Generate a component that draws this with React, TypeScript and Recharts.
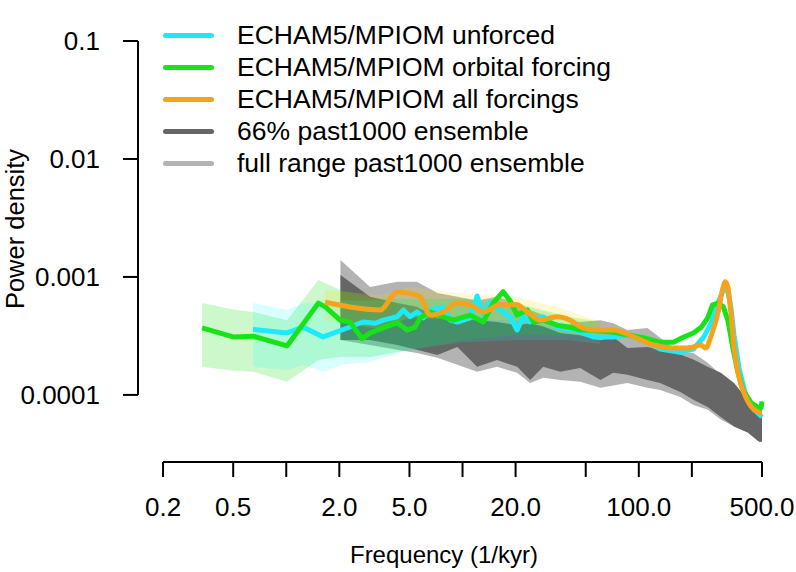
import { ComposedChart, Line, Area, XAxis, YAxis, ReferenceLine, Legend } from 'recharts';

const FONT = '"Liberation Sans", Arial, Helvetica, sans-serif';

// axis ticks
const freqTicks = [0.2, 0.5, 1, 2, 5, 10, 20, 50, 100, 200, 500];
const freqTickLabels = ['0.2', '0.5', '', '2.0', '5.0', '', '20.0', '', '100.0', '', '500.0'];
const powerTicks = [0.0001, 0.001, 0.01, 0.1];
const powerTickLabels = ['0.0001', '0.001', '0.01', '0.1'];

// ECHAM5/MPIOM unforced
const unforcedFreq = [0.648, 1.01, 1.25, 1.62, 2.07, 2.72, 3.2, 3.55, 4.26, 4.62, 5.04, 5.53, 6.0, 6.55, 7.77, 8.5, 9.35, 11.05, 12.1, 13.1, 14.3, 16.3, 18.6, 20.4, 22.1, 24.2, 28.7, 34.4, 42.5, 55.3, 71.6, 86.2, 106, 132, 172, 204, 234, 256, 281, 304, 320, 333, 347, 370, 404, 451, 500];
const unforcedPower = [3.6e-4, 3.35e-4, 3.75e-4, 3.1e-4, 3.55e-4, 4.15e-4, 4.05e-4, 4.3e-4, 4.6e-4, 5.25e-4, 4.6e-4, 5.05e-4, 4.5e-4, 5.25e-4, 5.55e-4, 4.3e-4, 4.15e-4, 4.5e-4, 6.9e-4, 4.75e-4, 6.1e-4, 5.25e-4, 4.6e-4, 3.55e-4, 4.6e-4, 4.15e-4, 4.6e-4, 3.75e-4, 3.6e-4, 3.1e-4, 3.1e-4, 3.2e-4, 2.9e-4, 2.45e-4, 2.3e-4, 2.45e-4, 3.1e-4, 4.0e-4, 6.0e-4, 8.0e-4, 7.5e-4, 5.5e-4, 3.2e-4, 1.7e-4, 1.0e-4, 7.5e-5, 6.5e-5];
const unforcedBandFreq = [0.648, 1.01, 1.25, 1.62, 2.07, 3.0, 5.0, 10, 20, 40, 60];
const unforcedBandLow = [1.73e-4, 1.63e-4, 1.8e-4, 1.57e-4, 1.8e-4, 1.9e-4, 2.4e-4, 2.8e-4, 2.9e-4, 2.9e-4, 2.7e-4];
const unforcedBandHigh = [6.0e-4, 5.25e-4, 6.0e-4, 5.8e-4, 6.3e-4, 6.3e-4, 6.5e-4, 6.3e-4, 5.8e-4, 4.5e-4, 3.8e-4];

// ECHAM5/MPIOM orbital forcing
const orbitalFreq = [0.333, 0.5, 0.65, 1.01, 1.52, 1.66, 2.02, 2.3, 2.69, 2.99, 3.55, 4.26, 4.85, 5.39, 5.75, 6.55, 7.77, 8.85, 11.05, 13.1, 14.9, 17.0, 18.6, 20.4, 23.3, 25.2, 28.7, 34.4, 40.8, 46.5, 51, 71.6, 106, 132, 157, 180, 204, 227, 246, 262, 281, 301, 320, 341, 362, 390, 433, 475, 494, 500];
const orbitalPower = [3.7e-4, 3.1e-4, 3.15e-4, 2.6e-4, 6.0e-4, 5.6e-4, 4.3e-4, 4.15e-4, 3.0e-4, 3.35e-4, 3.7e-4, 4.1e-4, 3.55e-4, 3.75e-4, 4.5e-4, 5.05e-4, 4.6e-4, 4.3e-4, 4.75e-4, 4.15e-4, 6.0e-4, 7.5e-4, 6.3e-4, 4.75e-4, 5.25e-4, 4.15e-4, 4.3e-4, 3.9e-4, 3.75e-4, 3.55e-4, 3.55e-4, 3.4e-4, 3.05e-4, 2.8e-4, 2.8e-4, 3.1e-4, 3.35e-4, 3.77e-4, 4.5e-4, 5.8e-4, 6.0e-4, 5.6e-4, 4.3e-4, 2.55e-4, 1.63e-4, 1.1e-4, 8.6e-5, 7.8e-5, 7.8e-5, 8.8e-5];
const orbitalBandFreq = [0.333, 0.5, 0.65, 1.01, 1.52, 2.02, 3.0, 5.0, 10, 20, 40, 60];
const orbitalBandLow = [1.73e-4, 1.6e-4, 1.57e-4, 1.29e-4, 1.98e-4, 2.1e-4, 2.1e-4, 2.4e-4, 2.9e-4, 3.2e-4, 3.2e-4, 3.1e-4];
const orbitalBandHigh = [6.0e-4, 5.3e-4, 5.05e-4, 4.3e-4, 9.4e-4, 7.8e-4, 6.6e-4, 6.5e-4, 6.5e-4, 6.0e-4, 4.6e-4, 4.2e-4];

// ECHAM5/MPIOM all forcings
const allFreq = [1.66, 3.41, 4.26, 5.75, 6.55, 7.77, 9.35, 11.05, 13.1, 16.3, 20.4, 23.3, 27.6, 34.4, 40.8, 46.5, 55.3, 71.6, 93.3, 121, 157, 188, 204, 224, 240, 256, 281, 301, 309, 320, 333, 347, 370, 404, 451, 500];
const allPower = [6.1e-4, 5.25e-4, 7.45e-4, 6.8e-4, 4.75e-4, 5.05e-4, 6.0e-4, 5.8e-4, 5.05e-4, 5.8e-4, 5.8e-4, 5.05e-4, 4.3e-4, 4.6e-4, 4.3e-4, 3.8e-4, 3.55e-4, 3.55e-4, 3.1e-4, 2.65e-4, 2.5e-4, 2.5e-4, 2.55e-4, 2.65e-4, 2.5e-4, 3.1e-4, 4.95e-4, 8.2e-4, 9.1e-4, 8.2e-4, 4.95e-4, 2.55e-4, 1.42e-4, 9.6e-5, 7.5e-5, 7.0e-5];
const allBandFreq = [1.66, 3.41, 5, 10, 20, 40, 60];
const allBandLow = [4.3e-4, 3.6e-4, 4.5e-4, 4.3e-4, 4.3e-4, 3.5e-4, 3.0e-4];
const allBandHigh = [7.8e-4, 7.0e-4, 8.2e-4, 7.2e-4, 6.8e-4, 5.2e-4, 4.2e-4];

// past1000 ensemble
const ensFreq = [2.03, 2.99, 4.26, 5.5, 7.2, 9.35, 12.1, 15.7, 20.4, 24.2, 28.7, 35.8, 46.5, 60.6, 71.6, 86.2, 112, 132, 172, 204, 246, 292, 347, 415, 481, 500];
const ens66Low = [2.92e-4, 2.92e-4, 2.65e-4, 2.41e-4, 2.18e-4, 2.55e-4, 1.73e-4, 1.98e-4, 1.73e-4, 1.34e-4, 1.73e-4, 1.57e-4, 1.69e-4, 1.34e-4, 1.54e-4, 1.48e-4, 1.34e-4, 1.26e-4, 1.06e-4, 9.1e-5, 7.9e-5, 6.5e-5, 5.4e-5, 4.8e-5, 4.0e-5, 4.0e-5];
const ens66High = [1.04e-3, 6.8e-4, 6.0e-4, 5.6e-4, 4.5e-4, 4.5e-4, 4.3e-4, 4.15e-4, 3.9e-4, 4.05e-4, 3.8e-4, 3.35e-4, 3.2e-4, 2.9e-4, 3.1e-4, 2.5e-4, 2.55e-4, 2.4e-4, 2.2e-4, 2.0e-4, 1.73e-4, 1.54e-4, 1.26e-4, 9.1e-5, 7.9e-5, 7.8e-5];
const ensFullLow = [2.92e-4, 2.65e-4, 2.41e-4, 2.27e-4, 2.07e-4, 1.8e-4, 1.57e-4, 1.73e-4, 1.54e-4, 1.26e-4, 1.4e-4, 1.34e-4, 1.29e-4, 1.15e-4, 1.2e-4, 1.26e-4, 1.15e-4, 1.1e-4, 9.6e-5, 8.2e-5, 7.5e-5, 6.2e-5, 5.4e-5, 4.8e-5, 4.0e-5, 4.0e-5];
const ensFullHigh = [1.39e-3, 8.2e-4, 9.1e-4, 9.1e-4, 7.3e-4, 6.8e-4, 6.3e-4, 6.8e-4, 6.0e-4, 5.25e-4, 4.75e-4, 3.8e-4, 4.15e-4, 4.3e-4, 4.05e-4, 3.55e-4, 3.7e-4, 3.05e-4, 2.3e-4, 2.27e-4, 1.87e-4, 1.48e-4, 1.1e-4, 9.1e-5, 7.9e-5, 7.8e-5];

const legendItems = [
    { name: 'ECHAM5/MPIOM unforced', color: '#1de9fb' },
    { name: 'ECHAM5/MPIOM orbital forcing', color: '#18e218' },
    { name: 'ECHAM5/MPIOM all forcings', color: '#f5a31d' },
    { name: '66% past1000 ensemble', color: '#666666' },
    { name: 'full range past1000 ensemble', color: '#b3b3b3' },
];

const X_DOMAIN = [0.1442, 693];
const Y_DOMAIN = [2.7e-5, 0.1];

const toLine = (freq: number[], power: number[]) => freq.map((f, i) => ({ f, p: power[i] }));
const toBand = (freq: number[], low: number[], high: number[]) =>
    freq.map((f, i) => ({ f, range: [low[i], high[i]] }));

const unforcedData = toLine(unforcedFreq, unforcedPower);
const orbitalData = toLine(orbitalFreq, orbitalPower);
const allData = toLine(allFreq, allPower);
const unforcedBand = toBand(unforcedBandFreq, unforcedBandLow, unforcedBandHigh);
const orbitalBand = toBand(orbitalBandFreq, orbitalBandLow, orbitalBandHigh);
const allBand = toBand(allBandFreq, allBandLow, allBandHigh);
const ens66Band = toBand(ensFreq, ens66Low, ens66High);
const ensFullBand = toBand(ensFreq, ensFullLow, ensFullHigh);

const FreqTick = ({ x, y, payload }: any) => (
    <text x={x} y={y} dy="0.71em" textAnchor="middle" fontSize={26} fontFamily={FONT} fill="#000">
        {freqTickLabels[freqTicks.indexOf(payload.value)]}
    </text>
);

const PowerTick = ({ x, y, payload }: any) => (
    <text x={x} y={y} dy="0.355em" textAnchor="end" fontSize={26} fontFamily={FONT} fill="#000">
        {powerTickLabels[powerTicks.indexOf(payload.value)]}
    </text>
);

const renderLegend = () => (
    <div style={{ fontFamily: FONT, fontSize: 26.5, color: '#000' }}>
        {legendItems.map((item) => (
            <div key={item.name} style={{ display: 'flex', alignItems: 'center', height: 32 }}>
                <div style={{ width: 51, height: 5, borderRadius: 3, backgroundColor: item.color, marginRight: 23 }} />
                <span style={{ whiteSpace: 'nowrap', lineHeight: '32px' }}>{item.name}</span>
            </div>
        ))}
    </div>
);

export default function App() {
    return (
        <div style={{ position: 'absolute', left: 0, top: 0, width: 796, height: 572, background: '#fff' }}>
            <ComposedChart width={796} height={572} margin={{ top: 41, right: 9, bottom: 0, left: 0 }}>
                <XAxis
                    dataKey="f"
                    type="number"
                    scale="log"
                    domain={X_DOMAIN}
                    allowDataOverflow
                    ticks={freqTicks}
                    interval={0}
                    height={110}
                    tickSize={15}
                    tickMargin={21}
                    axisLine={false}
                    tickLine={{ stroke: '#000', strokeWidth: 2 }}
                    tick={<FreqTick />}
                    label={{
                        content: () => (
                            <text x={444} y={563} textAnchor="middle" fontSize={24} fontFamily={FONT} fill="#000">
                                Frequency (1/kyr)
                            </text>
                        ),
                    }}
                />
                <YAxis
                    type="number"
                    scale="log"
                    domain={Y_DOMAIN}
                    allowDataOverflow
                    ticks={powerTicks}
                    interval={0}
                    width={138}
                    tickSize={15}
                    tickMargin={23}
                    axisLine={false}
                    tickLine={{ stroke: '#000', strokeWidth: 2 }}
                    tick={<PowerTick />}
                    label={{
                        content: () => (
                            <text transform="translate(24,229) rotate(-90)" textAnchor="middle" fontSize={25.5} fontFamily={FONT} fill="#000">
                                Power density
                            </text>
                        ),
                    }}
                />
                <ReferenceLine segment={[{ x: 0.2, y: Y_DOMAIN[0] }, { x: 500, y: Y_DOMAIN[0] }]} stroke="#000" strokeWidth={2} ifOverflow="visible" />
                <ReferenceLine segment={[{ x: X_DOMAIN[0], y: 0.0001 }, { x: X_DOMAIN[0], y: 0.1 }]} stroke="#000" strokeWidth={2} ifOverflow="visible" />

                <Area data={ensFullBand} dataKey="range" type="linear" stroke="none" fill="#b3b3b3" fillOpacity={1} isAnimationActive={false} />
                <Area data={ens66Band} dataKey="range" type="linear" stroke="none" fill="#666666" fillOpacity={1} isAnimationActive={false} />
                <Area data={orbitalBand} dataKey="range" type="linear" stroke="none" fill="#00dd00" fillOpacity={0.2} isAnimationActive={false} />
                <Area data={unforcedBand} dataKey="range" type="linear" stroke="none" fill="#00ffff" fillOpacity={0.15} isAnimationActive={false} />
                <Area data={allBand} dataKey="range" type="linear" stroke="none" fill="#ffdd00" fillOpacity={0.18} isAnimationActive={false} />

                <Line data={unforcedData} dataKey="p" type="linear" stroke="#1de9fb" strokeWidth={5} dot={false} strokeLinejoin="round" isAnimationActive={false} />
                <Line data={orbitalData} dataKey="p" type="linear" stroke="#18e218" strokeWidth={5} dot={false} strokeLinejoin="round" isAnimationActive={false} />
                <Line data={allData} dataKey="p" type="monotone" stroke="#f5a31d" strokeWidth={5} dot={false} strokeLinejoin="round" isAnimationActive={false} />

                <Legend
                    layout="horizontal"
                    verticalAlign="middle"
                    align="center"
                    content={renderLegend}
                    wrapperStyle={{ top: 19, left: 163, width: 'auto', height: 'auto' }}
                />
            </ComposedChart>
        </div>
    );
}
